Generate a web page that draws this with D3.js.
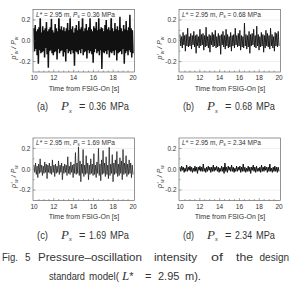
<!DOCTYPE html>
<html>
<head>
<meta charset="utf-8">
<script src="https://cdn.jsdelivr.net/npm/d3@7"></script>
<style>
    body { margin: 0; background: #fff; }
    svg { display: block; }
    .tick-label { font-family: "Liberation Sans", Arial, sans-serif; font-size: 6.5px; fill: #333; }
    .axis-title { font-family: "Liberation Sans", Arial, sans-serif; font-size: 7px; fill: #333; }
    .caption { font-family: "Liberation Sans", Arial, sans-serif; font-size: 11px; fill: #333; }
</style>
</head>
<body>
<div id="chart"></div>
<script>
/** * Data * * **/
const panelIds = ["a", "b", "c", "d"];
const panelPressures = { a: "0.36", b: "0.68", c: "1.69", d: "2.34" };
const xTicks = [10, 12, 14, 16, 18, 20];
const yTicks = [0.2, 0.0, -0.2];
const timeStart = 10;
const timeEnd = 20;

// normalized pressure fluctuation p'w/Pw, sampled evenly from 10 s to 20 s
const valuesA = [
    0.12,-0.10,0.15,-0.08,0.09,-0.14,0.11,-0.22,0.13,-0.09,
    0.25,-0.12,0.08,-0.11,0.14,-0.10,0.10,-0.16,0.12,-0.07,
    0.18,-0.13,0.09,-0.26,0.11,-0.10,0.13,-0.09,0.21,-0.12,
    0.10,-0.14,0.08,-0.11,0.16,-0.10,0.12,-0.18,0.09,-0.08,
    0.27,-0.12,0.11,-0.10,0.14,-0.09,0.10,-0.15,0.13,-0.11,
    0.09,-0.20,0.12,-0.08,0.17,-0.12,0.10,-0.10,0.23,-0.13,
    0.11,-0.09,0.14,-0.12,0.08,-0.24,0.12,-0.10,0.15,-0.11,
    0.10,-0.13,0.19,-0.09,0.11,-0.12,0.13,-0.08,0.26,-0.14,
    0.09,-0.11,0.12,-0.10,0.16,-0.17,0.10,-0.09,0.13,-0.12,
    0.22,-0.10,0.11,-0.13,0.09,-0.21,0.14,-0.11,0.12,-0.08,
    0.18,-0.12,0.10,-0.10,0.24,-0.14,0.11,-0.09,0.13,-0.27,
    0.12,-0.11,0.09,-0.12,0.15,-0.10,0.20,-0.13,0.11,-0.09,
    0.13,-0.16,0.10,-0.11,0.28,-0.12,0.12,-0.10,0.09,-0.14,
    0.17,-0.09,0.11,-0.19,0.14,-0.12,0.10,-0.11,0.23,-0.10,
    0.12,-0.13,0.09,-0.08,0.15,-0.22,0.11,-0.12,0.19,-0.10,
    0.10,-0.14,0.13,-0.09,0.25,-0.11,0.12,-0.16,0.10,-0.12
];
const valuesB = [
    0.06,-0.05,0.04,-0.07,0.08,-0.04,0.05,-0.10,0.06,-0.05,
    0.12,-0.06,0.04,-0.05,0.07,-0.08,0.05,-0.04,0.09,-0.06,
    0.05,-0.12,0.06,-0.05,0.04,-0.07,0.11,-0.05,0.06,-0.04,
    0.07,-0.09,0.05,-0.06,0.13,-0.05,0.04,-0.07,0.06,-0.11,
    0.05,-0.04,0.08,-0.06,0.06,-0.05,0.10,-0.07,0.04,-0.06,
    0.07,-0.05,0.05,-0.13,0.06,-0.04,0.09,-0.06,0.05,-0.08,
    0.11,-0.05,0.06,-0.07,0.04,-0.06,0.08,-0.10,0.05,-0.05,
    0.06,-0.07,0.12,-0.04,0.05,-0.06,0.07,-0.05,0.10,-0.09,
    0.05,-0.06,0.04,-0.07,0.17,-0.05,0.06,-0.08,0.05,-0.06,
    0.09,-0.12,0.06,-0.05,0.07,-0.04,0.11,-0.06,0.05,-0.07,
    0.14,-0.05,0.06,-0.09,0.04,-0.06,0.08,-0.05,0.06,-0.11,
    0.05,-0.07,0.10,-0.05,0.07,-0.06,0.05,-0.08,0.12,-0.05,
    0.06,-0.07,0.04,-0.10,0.08,-0.05,0.07,-0.06,0.09,-0.05
];
const valuesC = [
    0.04,-0.03,0.06,-0.05,0.03,-0.08,0.05,-0.04,0.10,-0.03,
    0.04,-0.06,0.03,-0.04,0.07,-0.03,0.05,-0.09,0.04,-0.03,
    0.06,-0.04,0.03,-0.05,0.09,-0.03,0.04,-0.07,0.05,-0.04,
    0.03,-0.03,0.08,-0.05,0.04,-0.03,0.06,-0.10,0.03,-0.04,
    0.05,-0.03,0.04,-0.06,0.12,-0.04,0.03,-0.05,0.07,-0.03,
    0.04,-0.08,0.05,-0.04,0.16,-0.05,0.06,-0.04,0.22,-0.06,
    0.08,-0.12,0.05,-0.04,0.19,-0.07,0.04,-0.05,0.13,-0.04,
    0.06,-0.10,0.04,-0.05,0.10,-0.04,0.05,-0.06,0.15,-0.05,
    0.04,-0.08,0.07,-0.04,0.20,-0.06,0.05,-0.11,0.09,-0.05,
    0.18,-0.04,0.06,-0.07,0.12,-0.05,0.04,-0.09,0.21,-0.06,
    0.05,-0.04,0.14,-0.12,0.06,-0.05,0.09,-0.04,0.17,-0.07,
    0.05,-0.06,0.11,-0.04,0.08,-0.10,0.19,-0.05,0.06,-0.04,
    0.13,-0.07,0.05,-0.05,0.09,-0.04,0.06,-0.08,0.04,-0.05
];
const valuesD = [
    0.02,-0.02,0.03,-0.01,0.02,-0.03,0.01,-0.02,0.04,-0.02,
    0.02,-0.01,0.03,-0.02,0.02,-0.03,0.01,-0.02,0.03,-0.02,
    0.02,-0.04,0.02,-0.01,0.03,-0.02,0.02,-0.02,0.05,-0.02,
    0.01,-0.03,0.02,-0.02,0.03,-0.01,0.02,-0.03,0.02,-0.02,
    0.04,-0.02,0.02,-0.01,0.03,-0.02,0.02,-0.03,0.01,-0.02,
    0.03,-0.02,0.02,-0.04,0.06,-0.02,0.02,-0.03,0.03,-0.01,
    0.02,-0.02,0.04,-0.02,0.02,-0.03,0.01,-0.02,0.03,-0.02,
    0.02,-0.01,0.03,-0.03,0.02,-0.02,0.05,-0.02,0.02,-0.03,
    0.01,-0.02,0.03,-0.02,0.02,-0.04,0.02,-0.01,0.04,-0.02,
    0.02,-0.03,0.03,-0.02,0.01,-0.02,0.02,-0.03,0.04,-0.02,
    0.02,-0.02,0.03,-0.01,0.02,-0.03,0.02,-0.02,0.05,-0.02,
    0.01,-0.03,0.02,-0.02,0.03,-0.02,0.02,-0.03,0.02,-0.02
];
const panelValues = { a: valuesA, b: valuesB, c: valuesC, d: valuesD };

/** * Layout * * **/
const width = 292;
const height = 295;
const panelOffsets = { a: [0, 0], b: [146, 0], c: [0, 128.5], d: [146, 128.5] };
const lineWidths = { a: 1.5, b: 0.9, c: 0.7, d: 1.0 };
const box = { left: 33, right: 134.5, top: 9.5, bottom: 72 };

const svg = d3.select("#chart")
    .append("svg")
    .attr("width", width)
    .attr("height", height);

const x = d3.scaleLinear().domain([timeStart, timeEnd]).range([34, 133]);
const y = d3.scaleLinear().domain([-0.3, 0.3]).range([box.bottom, box.top]);

function fitText(sel, len) {
    // squeeze a word into the width it takes in the original figure
    sel.attr("textLength", len).attr("lengthAdjust", "spacingAndGlyphs");
    return sel;
}

function drawPanel(id) {
    const [dx, dy] = panelOffsets[id];
    const g = svg.append("g").attr("transform", `translate(${dx},${dy})`);
    const values = panelValues[id];
    const step = (timeEnd - timeStart) / (values.length - 1);
    const series = values.map((v, i) => ({ t: timeStart + i * step, v: v }));

    // faint reference lines at +-0.2
    g.selectAll("line.grid")
        .data([0.2, -0.2])
        .join("line")
        .attr("class", "grid")
        .attr("x1", box.left).attr("x2", box.right)
        .attr("y1", d => y(d)).attr("y2", d => y(d))
        .attr("stroke", "#ddd")
        .attr("stroke-width", 0.5);

    const line = d3.line().x(d => x(d.t)).y(d => y(d.v));
    g.append("path")
        .datum(series)
        .attr("d", line)
        .attr("fill", "none")
        .attr("stroke", "#111")
        .attr("stroke-width", lineWidths[id]);

    g.append("rect")
        .attr("x", box.left).attr("y", box.top)
        .attr("width", box.right - box.left)
        .attr("height", box.bottom - box.top)
        .attr("fill", "none")
        .attr("stroke", "#666")
        .attr("stroke-width", 0.7);

    // inward ticks
    const minorX = d3.range(19).map(i => timeStart + 0.5 * (i + 1));
    g.selectAll("line.xtick")
        .data(minorX)
        .join("line")
        .attr("class", "xtick")
        .attr("x1", d => x(d)).attr("x2", d => x(d))
        .attr("y1", box.bottom).attr("y2", d => box.bottom - (d % 2 === 0 ? 2.5 : 1.5))
        .attr("stroke", "#555").attr("stroke-width", 0.5);

    g.selectAll("line.ytick")
        .data([-0.2, -0.1, 0, 0.1, 0.2])
        .join("line")
        .attr("class", "ytick")
        .attr("x1", box.left).attr("x2", d => box.left + (Math.round(d * 10) % 2 === 0 ? 2.5 : 1.5))
        .attr("y1", d => y(d)).attr("y2", d => y(d))
        .attr("stroke", "#555").attr("stroke-width", 0.5);

    g.selectAll("text.xlabel")
        .data(xTicks)
        .join("text")
        .attr("class", "tick-label")
        .attr("x", d => x(d))
        .attr("y", 80)
        .attr("text-anchor", "middle")
        .text(d => d);

    g.selectAll("text.ylabel")
        .data(yTicks)
        .join("text")
        .attr("class", "tick-label")
        .attr("x", 30.5)
        .attr("y", d => y(d) + 2.3)
        .attr("text-anchor", "end")
        .text(d => d3.format(".1f")(d).replace("\u2212", "-"));

    g.append("text")
        .attr("class", "axis-title")
        .attr("x", 84)
        .attr("y", 90.5)
        .attr("text-anchor", "middle")
        .text("Time from FSIG-On [s]");

    // y title: p'w / Pw
    const yTitle = g.append("text")
        .attr("class", "axis-title")
        .attr("transform", "translate(16,48) rotate(-90)")
        .attr("text-anchor", "middle")
        .style("font-style", "italic");
    yTitle.append("tspan").text("p'");
    yTitle.append("tspan").attr("font-size", "5px").attr("dy", 1.5).text("w");
    yTitle.append("tspan").attr("dy", -1.5).text(" / P");
    yTitle.append("tspan").attr("font-size", "5px").attr("dy", 1.5).text("w");

    // annotation inside the box, on a white patch
    g.append("rect")
        .attr("x", 34.5).attr("y", 10.3)
        .attr("width", 80).attr("height", 8)
        .attr("fill", "#fff");
    const note = g.append("text")
        .attr("class", "tick-label")
        .attr("x", 36)
        .attr("y", 16.5);
    note.append("tspan").style("font-style", "italic").text("L");
    note.append("tspan").text("* = 2.95 m, ");
    note.append("tspan").style("font-style", "italic").text("P");
    note.append("tspan").attr("font-size", "4.5px").attr("dy", 1.2).text("s");
    note.append("tspan").attr("dy", -1.2).text(` = ${panelPressures[id]} MPa`);

    // panel caption
    const cy = 110;
    fitText(g.append("text").attr("class", "caption").attr("x", 37).attr("y", cy).text(`(${id})`), 11);
    const ps = g.append("text").attr("class", "caption").attr("x", 61).attr("y", cy)
        .style("font-family", "'Liberation Serif', serif")
        .style("font-style", "italic");
    ps.append("tspan").style("font-size", "13px").text("P");
    ps.append("tspan").style("font-size", "7px").attr("dy", 2.5).text("s");
    g.append("text").attr("class", "caption").attr("x", 79).attr("y", cy).text("=");
    fitText(g.append("text").attr("class", "caption").attr("x", 89).attr("y", cy).text(panelPressures[id]), 17);
    fitText(g.append("text").attr("class", "caption").attr("x", 110).attr("y", cy).text("MPa"), 19);
}

panelIds.forEach(drawPanel);

// figure caption, justified like the original
const captionLine1 = [["Fig.", 2, 16], ["5", 25, 5.5], ["Pressure\u2013oscillation", 38, 104], ["intensity", 154, 43], ["of", 211, 12], ["the", 236, 17]];
const captionLine2 = [["standard", 49, 36], ["model(", 89, 30]];
captionLine1.forEach(([word, wx, len]) => {
    fitText(svg.append("text").attr("class", "caption").attr("x", wx).attr("y", 261).text(word), len);
});
svg.append("text").attr("class", "caption")
    .attr("x", 289).attr("y", 261)
    .attr("text-anchor", "end")
    .style("font-size", "10px")
    .text("design");
captionLine2.forEach(([word, wx, len]) => {
    fitText(svg.append("text").attr("class", "caption").attr("x", wx).attr("y", 280).text(word), len);
});
const eq = svg.append("text").attr("class", "caption").attr("y", 280);
eq.append("tspan").attr("x", 122)
    .style("font-family", "'Liberation Serif', serif")
    .style("font-style", "italic")
    .style("font-size", "13px")
    .text("L");
eq.append("tspan").text("*");
eq.append("tspan").attr("x", 145).text("=");
eq.append("tspan").attr("x", 158).text("2.95");
eq.append("tspan").attr("x", 185).text("m).");
</script>
</body>
</html>
